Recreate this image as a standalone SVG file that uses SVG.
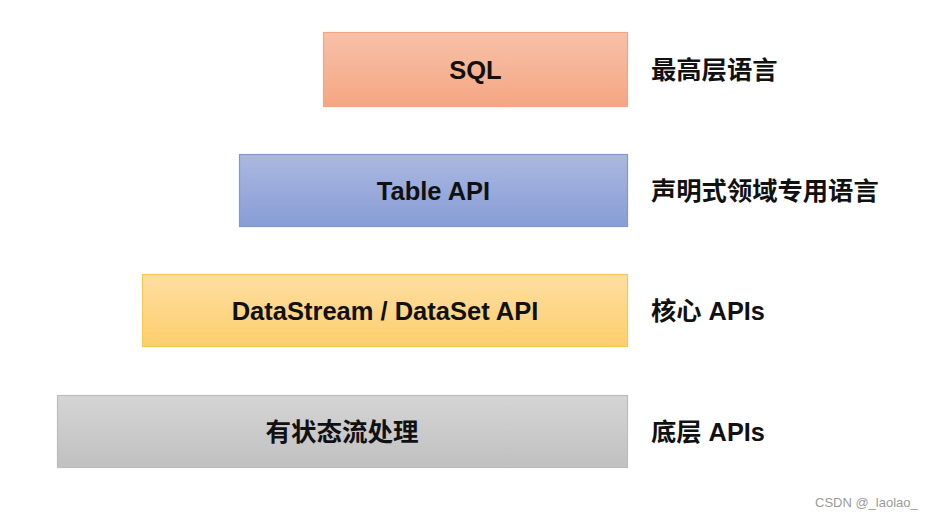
<svg xmlns="http://www.w3.org/2000/svg" width="932" height="518" viewBox="0 0 932 518">
<defs>
<linearGradient id="gSql" x1="0" y1="0" x2="0" y2="1"><stop offset="0" stop-color="#f7c1a9"/><stop offset="1" stop-color="#f5a682"/></linearGradient>
<linearGradient id="gTable" x1="0" y1="0" x2="0" y2="1"><stop offset="0" stop-color="#abb8e0"/><stop offset="1" stop-color="#889dd6"/></linearGradient>
<linearGradient id="gDs" x1="0" y1="0" x2="0" y2="1"><stop offset="0" stop-color="#fedea2"/><stop offset="1" stop-color="#fcce6c"/></linearGradient>
<linearGradient id="gLow" x1="0" y1="0" x2="0" y2="1"><stop offset="0" stop-color="#d5d5d5"/><stop offset="1" stop-color="#c0c0c0"/></linearGradient>
</defs>
<style>
.box{stroke-width:1.2}
.t{font-family:"Liberation Sans","Noto Sans CJK SC",sans-serif;font-weight:bold;font-size:25.5px;fill:#111;text-anchor:middle;dominant-baseline:central}
.lbl{font-family:"Liberation Sans","Noto Sans CJK SC",sans-serif;font-weight:bold;font-size:25.3px;fill:#111;dominant-baseline:central}
.wm{font-family:"Liberation Sans",sans-serif;font-size:13px;fill:#9a9a9a}
</style>
<rect width="932" height="518" fill="#ffffff"/>
<g id="sql">
<rect class="box" x="323.5" y="32.5" width="304" height="74" fill="url(#gSql)" stroke="#f4a77f"/>
<text class="t" x="475.5" y="70">SQL</text>
</g>
<g id="table-api">
<rect class="box" x="239.5" y="154.5" width="388" height="72" fill="url(#gTable)" stroke="#7f98d4"/>
<text class="t" x="433.5" y="190.5">Table API</text>
</g>
<g id="datastream">
<rect class="box" x="142.5" y="274.5" width="485" height="72" fill="url(#gDs)" stroke="#f9c84e"/>
<text class="t" x="385" y="311">DataStream / DataSet API</text>
</g>
<g id="stateful">
<rect class="box" x="57.5" y="395.5" width="570" height="72" fill="url(#gLow)" stroke="#bcbcbc"/>
<text class="t" x="342" y="432">有状态流处理</text>
</g>
<g id="labels">
<text class="lbl" x="651" y="70">最高层语言</text>
<text class="lbl" x="651" y="190.5">声明式领域专用语言</text>
<text class="lbl" x="651" y="311">核心 APIs</text>
<text class="lbl" x="651" y="432">底层 APIs</text>
</g>
<g id="connectors"/>
<text class="wm" x="815" y="507">CSDN @_laolao_</text>
</svg>
